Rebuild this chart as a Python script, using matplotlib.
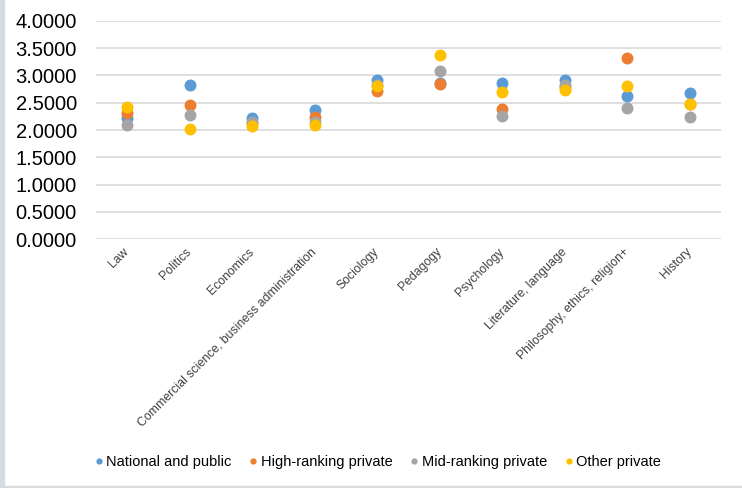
import matplotlib
matplotlib.use('Agg')
import matplotlib.pyplot as plt
from matplotlib.lines import Line2D
from matplotlib.patches import Rectangle

plt.rcParams['font.family'] = ['Liberation Sans', 'DejaVu Sans']

# 学部別の平均スコア
fields = ['Law', 'Politics', 'Economics', 'Commercial science, business administration',
          'Sociology', 'Pedagogy', 'Psychology', 'Literature, language',
          'Philosophy, ethics, religion+', 'History']
national_public = [2.22, 2.82, 2.22, 2.36, 2.91, 2.86, 2.86, 2.91, 2.62, 2.68]
high_ranking = [2.31, 2.46, 2.12, 2.23, 2.72, 2.84, 2.39, 2.78, 3.33, 2.48]
mid_ranking = [2.10, 2.28, 2.15, 2.14, 2.82, 3.08, 2.26, 2.82, 2.40, 2.24]
other_private = [2.43, 2.01, 2.08, 2.10, 2.80, 3.37, 2.70, 2.74, 2.80, 2.48]

series = [
    ('National and public', national_public, '#5B9BD5'),
    ('High-ranking private', high_ranking, '#ED7D31'),
    ('Mid-ranking private', mid_ranking, '#A5A5A5'),
    ('Other private', other_private, '#FFC000'),
]

fig = plt.figure(figsize=(7.42, 4.88), dpi=100)
ax = fig.add_axes([0.1294, 0.5102, 0.8423, 0.4468])

x = list(range(len(fields)))
for name, vals, color in series:
    ax.scatter(x, vals, s=74, color=color, linewidths=0, zorder=3, label=name)

ax.set_xlim(-0.5, len(fields) - 0.5)
ax.set_ylim(0, 4)
ax.set_yticks([i * 0.5 for i in range(9)])
ax.set_yticklabels([f'{i * 0.5:.4f}' for i in range(9)], fontsize=14.5)
ax.grid(axis='y', color='#D9D9D9', linewidth=1.2, zorder=0)
ax.set_axisbelow(True)
for sp in ax.spines.values():
    sp.set_visible(False)
ax.tick_params(axis='both', length=0)
ax.tick_params(axis='y', pad=13.7)

ax.set_xticks(x)
ax.set_xticklabels(fields, rotation=45, ha='right', va='center',
                   rotation_mode='anchor', fontsize=8.8, color='#404040')
ax.tick_params(axis='x', pad=8)

handles = [Line2D([], [], marker='o', linestyle='none', markersize=4.5,
                  markerfacecolor=c, markeredgewidth=0) for _, _, c in series]
fig.legend(handles, [n for n, _, _ in series], loc='center',
           bbox_to_anchor=(0.507, 0.053), ncol=4, frameon=False,
           fontsize=10.5, handletextpad=0.0, columnspacing=1.0,
           handlelength=1.0)

# 枠線
fig.patches.append(Rectangle((0, 0), 4 / 742, 1, transform=fig.transFigure,
                             color='#D6DCE5', zorder=0))
fig.patches.append(Rectangle((0, 0), 1, 2 / 488, transform=fig.transFigure,
                             color='#D9D9D9', zorder=0))

fig.savefig('out.png', dpi=100)
